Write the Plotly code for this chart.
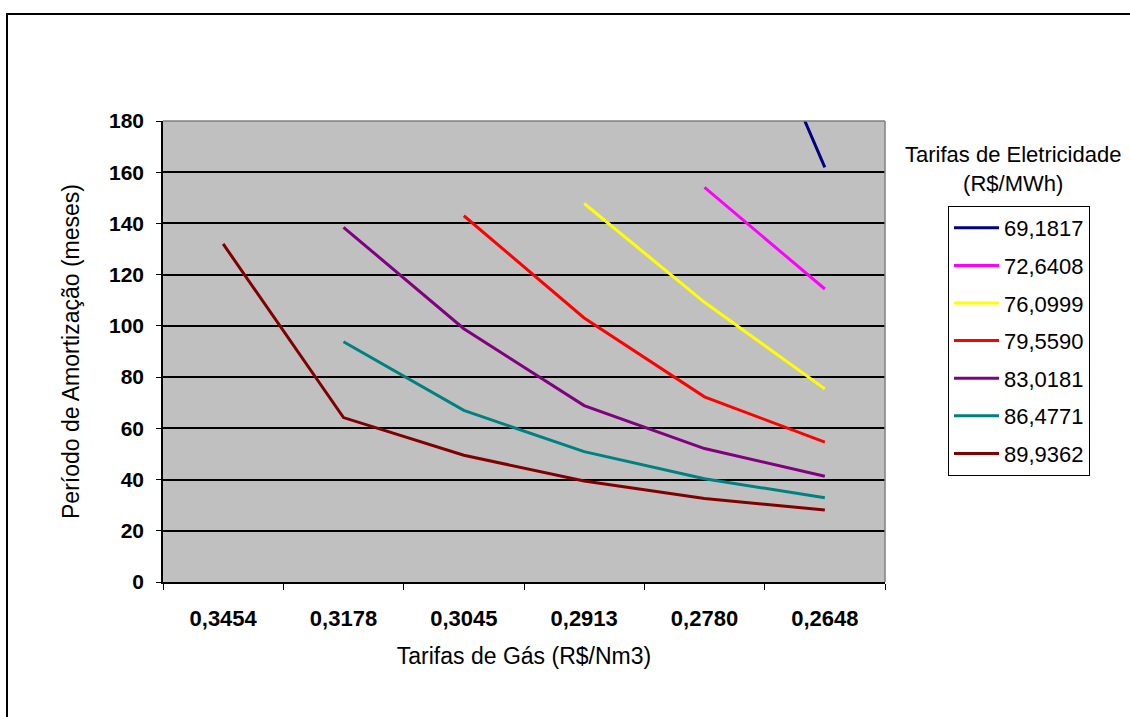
import plotly.graph_objects as go

# Gas tariff categories (R$/Nm3) on the x axis
gas_tariffs = ["0,3454", "0,3178", "0,3045", "0,2913", "0,2780", "0,2648"]

# Electricity tariff series (R$/MWh) and their payback periods (months)
series_names = ["69,1817", "72,6408", "76,0999", "79,5590", "83,0181", "86,4771", "89,9362"]
p_69_1817 = [None, None, None, None, 271, 161.9]
p_72_6408 = [None, None, None, None, 154.1, 114.4]
p_76_0999 = [None, None, None, 147.8, 109.2, 75.4]
p_79_5590 = [None, None, 143.0, 103.1, 72.3, 54.6]
p_83_0181 = [None, 138.5, 98.9, 68.9, 52.1, 41.3]
p_86_4771 = [None, 93.8, 67.0, 50.9, 40.3, 32.9]
p_89_9362 = [132.0, 64.2, 49.5, 39.4, 32.6, 28.1]

series_values = [p_69_1817, p_72_6408, p_76_0999, p_79_5590, p_83_0181, p_86_4771, p_89_9362]
series_colors = ["#000080", "#FF00FF", "#FFFF00", "#FF0000", "#800080", "#008080", "#800000"]

y_ticks = [0, 20, 40, 60, 80, 100, 120, 140, 160, 180]

FONT = "Liberation Sans, Arial, sans-serif"

fig = go.Figure()
for name, vals, color in zip(series_names, series_values, series_colors):
    fig.add_trace(go.Scatter(
        x=gas_tariffs, y=vals, name=name, mode="lines",
        line=dict(color=color, width=3),
        legendgroup=name, connectgaps=False,
    ))

W, H = 1130, 717
L, R, T, B = 163, 245, 121, 135
pw, ph = W - L - R, H - T - B


def px_x(px):
    return (px - L) / pw


def px_y(py):
    return (H - B - py) / ph


fig.update_layout(
    width=W, height=H,
    margin=dict(l=L, r=R, t=T, b=B, pad=0),
    paper_bgcolor="white",
    plot_bgcolor="#C0C0C0",
    font=dict(family=FONT, color="black", size=21),
    showlegend=True,
    legend=dict(
        x=px_x(948), y=px_y(206), xanchor="left", yanchor="top",
        bgcolor="white", bordercolor="black", borderwidth=1,
        font=dict(family=FONT, size=22, color="black"),
        tracegroupgap=6, itemwidth=45,
    ),
    xaxis=dict(
        type="category", categoryorder="array", categoryarray=gas_tariffs,
        range=[-0.5, len(gas_tariffs) - 0.5],
        tickson="boundaries", ticks="outside", ticklen=6, tickcolor="black",
        showline=True, linecolor="black", linewidth=1.5,
        showgrid=False, zeroline=False,
        tickfont=dict(family=FONT, size=22, color="black", weight="bold"),
        ticklabelstandoff=16,
        title=dict(text="Tarifas de Gás (R$/Nm3)", font=dict(family=FONT, size=23), standoff=18),
        automargin=False,
    ),
    yaxis=dict(
        range=[0, 180], tickvals=y_ticks, ticks="outside", ticklen=5, tickcolor="black",
        showline=True, linecolor="black", linewidth=1.5,
        showgrid=True, gridcolor="black", gridwidth=1.5, zeroline=False,
        tickfont=dict(family=FONT, size=21, color="black", weight="bold"),
        ticklabelstandoff=8,
        title=dict(text="Período de Amortização (meses)", font=dict(family=FONT, size=23), standoff=23),
        automargin=False,
    ),
    shapes=[
        # grey frame on top and right of the plot area
        dict(type="line", xref="paper", yref="paper", x0=0, x1=1, y0=1, y1=1,
             line=dict(color="#808080", width=1.5)),
        dict(type="line", xref="paper", yref="paper", x0=1, x1=1, y0=0, y1=1,
             line=dict(color="#808080", width=1.5)),
        # outer chart border
        dict(type="rect", xref="paper", yref="paper",
             x0=px_x(7), x1=px_x(1140), y0=px_y(730), y1=px_y(14),
             line=dict(color="black", width=2), layer="below"),
    ],
    annotations=[
        dict(text="Tarifas de Eletricidade<br>(R$/MWh)", xref="paper", yref="paper",
             x=px_x(1013), y=px_y(169), xanchor="center", yanchor="middle",
             showarrow=False, align="center",
             font=dict(family=FONT, size=22, color="black")),
    ],
)

fig.write_html("out.html")
